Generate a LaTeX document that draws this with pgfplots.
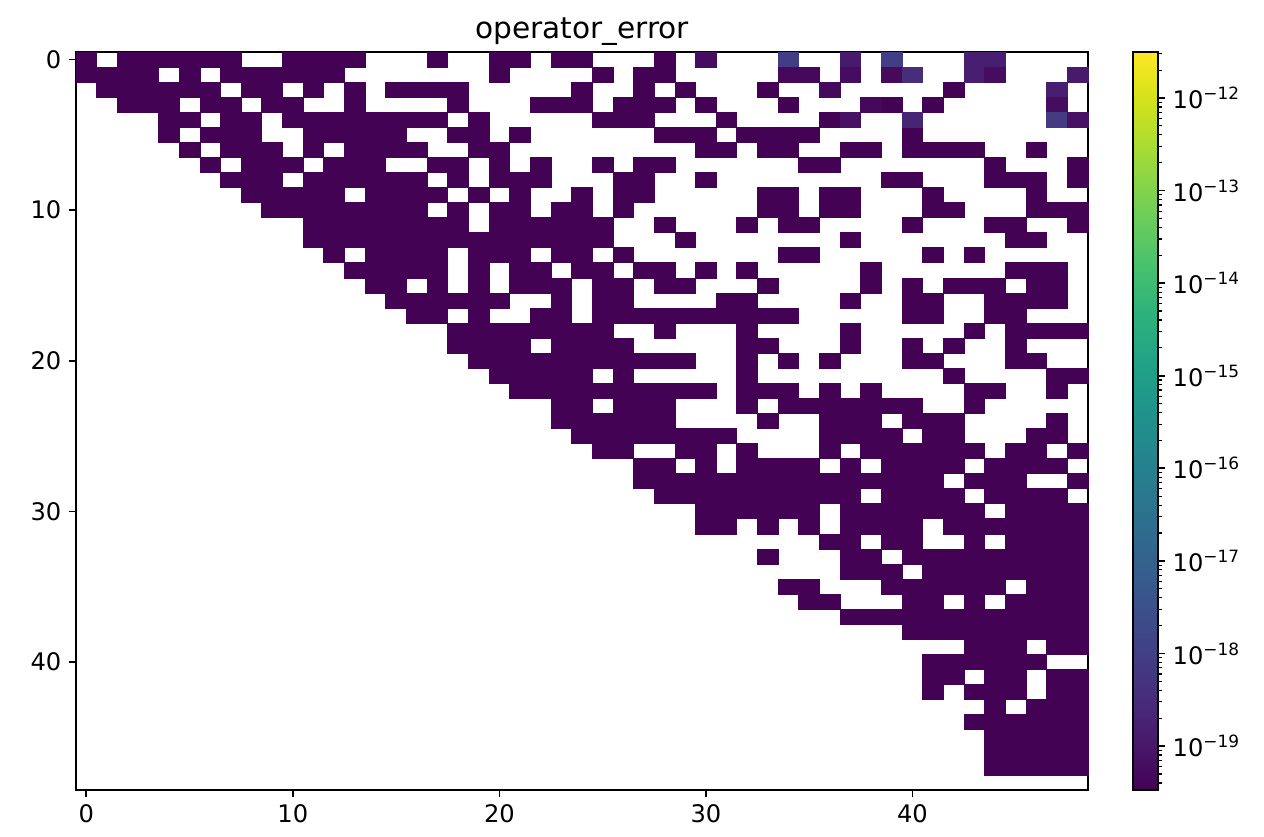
\documentclass[border=0pt]{standalone}
\usepackage{fontspec}
\setmainfont{DejaVu Sans}
\usepackage{pgfplots}
\usepackage{pgfplotstable}
\pgfplotsset{compat=1.18}

% one matrix cell: axis 485.76pt x 354.24pt, 49 x 49 cells
\pgfdeclareplotmark{cell}{%
  \pgfpathrectangle{\pgfpoint{-4.957pt}{-3.615pt}}{\pgfpoint{9.914pt}{7.229pt}}%
  \pgfusepathqfillstroke}

% cells that are not at the bottom of the colour range
\pgfplotstableread{
x y v
30 0 5.8e-20
34 0 9.0e-19
37 0 1.2e-19
39 0 9.0e-19
43 0 1.5e-19
44 0 1.5e-19
34 1 4.8e-20
35 1 4.8e-20
37 1 5.8e-20
39 1 5.3e-20
40 1 3.6e-19
43 1 1.5e-19
44 1 5.8e-20
48 1 1.2e-19
36 2 5.3e-20
47 2 1.5e-19
38 3 4.8e-20
47 3 5.8e-20
37 4 7.0e-20
40 4 2.1e-19
47 4 7.6e-19
48 4 7.0e-20
}\lighter

\def\pw#1{10\textsuperscript{−#1}}

\begin{document}
\begin{tikzpicture}
\path (-36.48pt,-22.08pt) rectangle (570.24pt,379.2pt);
\begin{axis}[
  scale only axis, width=485.76pt, height=354.24pt,
  at={(0,0)}, anchor=south west,
  xmin=-0.5, xmax=48.5, ymin=-0.5, ymax=48.5, y dir=reverse,
  xtick={0,10,20,30,40}, ytick={0,10,20,30,40},
  tick align=outside, major tick length=3.5pt,
  xtick pos=left, ytick pos=left,
  every tick/.style={black, line width=0.8pt},
  axis line style={line width=0.8pt},
  tick label style={font=\fontsize{11.6}{13}\selectfont},
  /pgf/number format/assume math mode=true,
  title={operator\_error},
  title style={font=\fontsize{14.2}{16}\selectfont, anchor=base, yshift=0.7pt},
  colormap/viridis,
  point meta min=-19.475, point meta max=-11.503,
  colorbar,
  colorbar style={
    at={(parent axis.north east)}, anchor=north west, xshift=13.1pt,
    width=12pt,
    axis line style={line width=0.8pt},
    ytick={-19,-18,-17,-16,-15,-14,-13,-12},
    yticklabels={\pw{19},\pw{18},\pw{17},\pw{16},\pw{15},\pw{14},\pw{13},\pw{12}},
    minor ytick={-19.398,-19.301,-19.222,-19.155,-19.097,-19.046,
      -18.699,-18.523,-18.398,-18.301,-18.222,-18.155,-18.097,-18.046,
      -17.699,-17.523,-17.398,-17.301,-17.222,-17.155,-17.097,-17.046,
      -16.699,-16.523,-16.398,-16.301,-16.222,-16.155,-16.097,-16.046,
      -15.699,-15.523,-15.398,-15.301,-15.222,-15.155,-15.097,-15.046,
      -14.699,-14.523,-14.398,-14.301,-14.222,-14.155,-14.097,-14.046,
      -13.699,-13.523,-13.398,-13.301,-13.222,-13.155,-13.097,-13.046,
      -12.699,-12.523,-12.398,-12.301,-12.222,-12.155,-12.097,-12.046,
      -11.699,-11.523},
    tick align=outside, ytick pos=right, yticklabel pos=right,
    major tick length=3.5pt, minor tick length=2pt,
    every tick/.style={black, line width=0.8pt},
    minor tick style={line width=0.6pt},
    tick label style={font=\fontsize{11.6}{13}\selectfont},
  },
  scatter/use mapped color={draw=mapped color, fill=mapped color},
  every mark/.append style={line width=0.25pt},
]
\addplot[scatter, only marks, mark=cell, point meta={log10(3.5e-20)}] coordinates {
(0,0)(2,0)(3,0)(4,0)(5,0)(6,0)(7,0)(10,0)(11,0)(12,0)(13,0)(17,0)(20,0)(21,0)(23,0)(24,0)(28,0)
(0,1)(1,1)(2,1)(3,1)(5,1)(7,1)(8,1)(9,1)(10,1)(11,1)(12,1)(20,1)(25,1)(27,1)(28,1)
(1,2)(2,2)(3,2)(4,2)(5,2)(6,2)(8,2)(9,2)(11,2)(13,2)(15,2)(16,2)(17,2)(18,2)(24,2)(27,2)(29,2)(33,2)(42,2)
(2,3)(3,3)(4,3)(6,3)(7,3)(9,3)(10,3)(13,3)(18,3)(22,3)(23,3)(24,3)(26,3)(27,3)(28,3)(30,3)(34,3)(39,3)(41,3)
(4,4)(5,4)(7,4)(8,4)(10,4)(11,4)(12,4)(13,4)(14,4)(15,4)(16,4)(17,4)(19,4)(25,4)(26,4)(27,4)(31,4)(36,4)
(4,5)(6,5)(7,5)(8,5)(11,5)(12,5)(13,5)(14,5)(15,5)(18,5)(19,5)(21,5)(28,5)(29,5)(30,5)(32,5)(33,5)(34,5)(35,5)(40,5)
(5,6)(7,6)(8,6)(9,6)(11,6)(13,6)(14,6)(15,6)(16,6)(19,6)(20,6)(30,6)(31,6)(33,6)(34,6)(37,6)(38,6)(40,6)(41,6)(42,6)(43,6)(46,6)
(6,7)(8,7)(9,7)(10,7)(12,7)(13,7)(14,7)(17,7)(18,7)(20,7)(22,7)(25,7)(27,7)(28,7)(35,7)(36,7)(44,7)(48,7)
(7,8)(8,8)(9,8)(11,8)(12,8)(13,8)(14,8)(15,8)(16,8)(18,8)(20,8)(21,8)(22,8)(26,8)(27,8)(30,8)(39,8)(40,8)(44,8)(45,8)(46,8)(48,8)
(8,9)(9,9)(10,9)(11,9)(12,9)(14,9)(15,9)(16,9)(17,9)(19,9)(21,9)(24,9)(26,9)(27,9)(33,9)(34,9)(36,9)(37,9)(41,9)(46,9)
(9,10)(10,10)(11,10)(12,10)(13,10)(14,10)(15,10)(16,10)(18,10)(20,10)(21,10)(23,10)(24,10)(26,10)(33,10)(34,10)(36,10)(37,10)(41,10)(42,10)(46,10)(47,10)(48,10)
(11,11)(12,11)(13,11)(14,11)(15,11)(16,11)(17,11)(18,11)(20,11)(21,11)(22,11)(23,11)(24,11)(25,11)(28,11)(32,11)(34,11)(35,11)(40,11)(44,11)(45,11)(48,11)
(11,12)(12,12)(13,12)(14,12)(15,12)(16,12)(17,12)(18,12)(19,12)(20,12)(21,12)(22,12)(23,12)(24,12)(25,12)(29,12)(37,12)(45,12)(46,12)
(12,13)(14,13)(15,13)(16,13)(17,13)(19,13)(20,13)(21,13)(23,13)(24,13)(26,13)(34,13)(35,13)(41,13)(43,13)
(13,14)(14,14)(15,14)(16,14)(17,14)(19,14)(21,14)(22,14)(24,14)(25,14)(27,14)(28,14)(30,14)(32,14)(38,14)(45,14)(46,14)(47,14)
(14,15)(15,15)(17,15)(19,15)(21,15)(22,15)(23,15)(25,15)(26,15)(28,15)(29,15)(33,15)(38,15)(40,15)(42,15)(43,15)(44,15)(46,15)(47,15)
(15,16)(16,16)(17,16)(18,16)(19,16)(20,16)(23,16)(25,16)(26,16)(31,16)(32,16)(37,16)(40,16)(41,16)(44,16)(45,16)(46,16)(47,16)
(16,17)(17,17)(19,17)(22,17)(23,17)(25,17)(26,17)(27,17)(28,17)(29,17)(30,17)(31,17)(32,17)(33,17)(34,17)(40,17)(41,17)(44,17)(45,17)
(18,18)(19,18)(20,18)(21,18)(22,18)(23,18)(24,18)(25,18)(28,18)(32,18)(37,18)(43,18)(45,18)(46,18)(47,18)(48,18)
(18,19)(19,19)(20,19)(21,19)(23,19)(24,19)(25,19)(26,19)(32,19)(33,19)(37,19)(40,19)(42,19)(45,19)
(19,20)(20,20)(21,20)(22,20)(23,20)(24,20)(25,20)(26,20)(27,20)(28,20)(29,20)(32,20)(34,20)(36,20)(40,20)(41,20)(45,20)(46,20)
(20,21)(21,21)(22,21)(23,21)(24,21)(26,21)(32,21)(42,21)(47,21)(48,21)
(21,22)(22,22)(23,22)(24,22)(25,22)(26,22)(27,22)(28,22)(29,22)(30,22)(32,22)(33,22)(34,22)(36,22)(38,22)(43,22)(44,22)(47,22)
(23,23)(24,23)(26,23)(27,23)(28,23)(32,23)(34,23)(35,23)(36,23)(37,23)(38,23)(39,23)(40,23)(43,23)
(23,24)(24,24)(25,24)(26,24)(27,24)(28,24)(33,24)(36,24)(37,24)(38,24)(40,24)(41,24)(42,24)(47,24)
(24,25)(25,25)(26,25)(27,25)(28,25)(29,25)(30,25)(31,25)(36,25)(37,25)(38,25)(39,25)(41,25)(42,25)(46,25)(47,25)
(25,26)(26,26)(29,26)(30,26)(32,26)(36,26)(38,26)(39,26)(40,26)(41,26)(42,26)(43,26)(45,26)(46,26)(48,26)
(27,27)(28,27)(30,27)(32,27)(33,27)(34,27)(35,27)(37,27)(39,27)(40,27)(41,27)(42,27)(44,27)(45,27)(46,27)(47,27)
(27,28)(28,28)(29,28)(30,28)(31,28)(32,28)(33,28)(34,28)(35,28)(36,28)(37,28)(38,28)(39,28)(40,28)(41,28)(43,28)(44,28)(45,28)(48,28)
(28,29)(29,29)(30,29)(31,29)(32,29)(33,29)(34,29)(35,29)(36,29)(37,29)(39,29)(40,29)(41,29)(42,29)(44,29)(45,29)(46,29)(47,29)
(30,30)(31,30)(32,30)(33,30)(34,30)(35,30)(37,30)(38,30)(39,30)(40,30)(41,30)(42,30)(43,30)(45,30)(46,30)(47,30)(48,30)
(30,31)(31,31)(33,31)(35,31)(37,31)(38,31)(39,31)(40,31)(42,31)(43,31)(44,31)(45,31)(46,31)(47,31)(48,31)
(36,32)(37,32)(39,32)(40,32)(43,32)(45,32)(46,32)(47,32)(48,32)
(33,33)(37,33)(38,33)(40,33)(41,33)(42,33)(43,33)(44,33)(45,33)(46,33)(47,33)(48,33)
(37,34)(38,34)(39,34)(41,34)(42,34)(43,34)(44,34)(45,34)(46,34)(47,34)(48,34)
(34,35)(35,35)(39,35)(40,35)(41,35)(42,35)(43,35)(44,35)(46,35)(47,35)(48,35)
(35,36)(36,36)(40,36)(41,36)(43,36)(45,36)(46,36)(47,36)(48,36)
(37,37)(38,37)(39,37)(40,37)(41,37)(42,37)(43,37)(44,37)(45,37)(46,37)(47,37)(48,37)
(40,38)(41,38)(42,38)(43,38)(44,38)(45,38)(46,38)(47,38)(48,38)
(43,39)(44,39)(45,39)(47,39)(48,39)
(41,40)(42,40)(43,40)(44,40)(45,40)(46,40)
(41,41)(42,41)(44,41)(45,41)(47,41)(48,41)
(41,42)(43,42)(44,42)(45,42)(47,42)(48,42)
(44,43)(46,43)(47,43)(48,43)
(43,44)(44,44)(45,44)(46,44)(47,44)(48,44)
(44,45)(45,45)(46,45)(47,45)(48,45)
(44,46)(45,46)(46,46)(47,46)(48,46)
(44,47)(45,47)(46,47)(47,47)(48,47)
};
\addplot[scatter, only marks, mark=cell, point meta={log10(\thisrow{v})}]
  table[x=x, y=y] {\lighter};
\end{axis}
\end{tikzpicture}
\end{document}
